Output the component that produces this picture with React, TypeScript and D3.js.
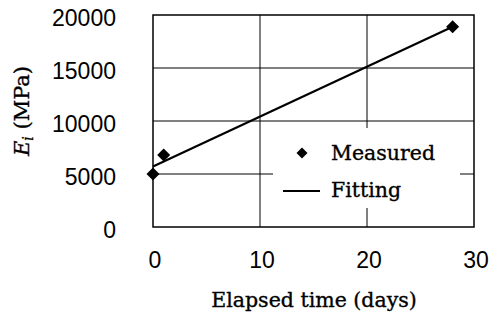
import React from "react";
import * as d3 from "d3";

const measuredDays = [0, 1, 28];
const measuredModulus = [5000, 6800, 18900];
const fitDays = [0, 28];
const fitModulus = [5700, 18900];
const xTicks = [0, 10, 20, 30];
const yTicks = [0, 5000, 10000, 15000, 20000];
const legendLabels = ["Measured", "Fitting"];

const W = 494;
const H = 320;
const L = 153, R = 474, T = 15, B = 227;

export default function App() {
  const x = d3.scaleLinear().domain([0, 30]).range([L, R]);
  const y = d3.scaleLinear().domain([0, 20000]).range([B, T]);
  const line = d3
    .line<number>()
    .x((d) => x(d))
    .y((_, i) => y(fitModulus[i]));
  const serif = "'DejaVu Serif', serif";
  const sans = "'Liberation Sans', Arial, sans-serif";
  const diamond = (cx: number, cy: number, r: number) =>
    `M${cx},${cy - r}L${cx + r},${cy}L${cx},${cy + r}L${cx - r},${cy}Z`;
  const heavy = { stroke: "#000", strokeWidth: 0.35 };
  return (
    <svg
      width={W}
      height={H}
      style={{ position: "absolute", left: 0, top: 0, background: "#fff" }}
    >
      <rect x={0} y={0} width={W} height={H} fill="#fff" />
      {/* grid */}
      {xTicks.slice(1, -1).map((t) => (
        <line key={"gx" + t} x1={x(t)} x2={x(t)} y1={T} y2={B} stroke="#000" strokeWidth={1} />
      ))}
      {yTicks.slice(1, -1).map((t) => (
        <line key={"gy" + t} x1={L} x2={R} y1={y(t)} y2={y(t)} stroke="#000" strokeWidth={1} />
      ))}
      {/* legend background */}
      <rect x={273} y={128} width={187} height={80} fill="#fff" />
      {/* border */}
      <rect x={L} y={T} width={R - L} height={B - T} fill="none" stroke="#000" strokeWidth={1.5} />
      {/* fit line */}
      <path d={line(fitDays) || ""} fill="none" stroke="#000" strokeWidth={2.2} />
      {/* points */}
      {measuredDays.map((d, i) => (
        <path key={"p" + i} d={diamond(x(d), y(measuredModulus[i]), 6.5)} fill="#000" />
      ))}
      {/* legend */}
      <path d={diamond(302, 153, 5.5)} fill="#000" />
      <text x={331} y={160} fontFamily={serif} fontSize={20.5} fill="#000" {...heavy}>
        {legendLabels[0]}
      </text>
      <line x1={283} x2={320} y1={191} y2={191} stroke="#000" strokeWidth={2} />
      <text x={331} y={197} fontFamily={serif} fontSize={20.5} fill="#000" {...heavy}>
        {legendLabels[1]}
      </text>
      {/* y ticks */}
      {yTicks.map((t) => (
        <text key={"yt" + t} x={116} y={y(t) + 11} textAnchor="end" fontFamily={sans} fontSize={23} fill="#000">
          {t}
        </text>
      ))}
      {/* x ticks */}
      {xTicks.map((t) => (
        <text key={"xt" + t} x={x(t) + 2} y={268} textAnchor="middle" fontFamily={sans} fontSize={23} fill="#000">
          {t}
        </text>
      ))}
      {/* axis titles */}
      <text x={314} y={307} textAnchor="middle" fontFamily={serif} fontSize={20.5} fill="#000" {...heavy}>
        Elapsed time (days)
      </text>
      <text
        transform="translate(29,111) rotate(-90)"
        textAnchor="middle"
        fontFamily={serif}
        fontSize={21}
        fill="#000"
        {...heavy}
      >
        <tspan fontStyle="italic">E</tspan>
        <tspan fontStyle="italic" fontSize={14} dy={4}>i</tspan>
        <tspan dy={-4}> (MPa)</tspan>
      </text>
    </svg>
  );
}
